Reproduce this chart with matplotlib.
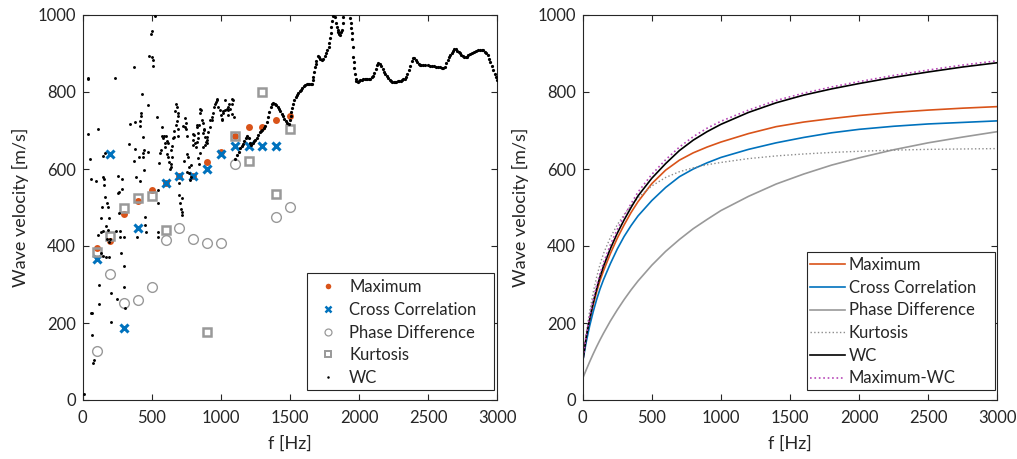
import matplotlib
matplotlib.use("Agg")
import matplotlib.pyplot as plt
from matplotlib.lines import Line2D
from matplotlib.patches import Rectangle

plt.rcParams['font.family'] = ['Lato', 'DejaVu Sans']

# ---------------- Left panel data ----------------
freq = [100, 200, 300, 400, 500, 600, 700, 800, 900, 1000, 1100, 1200, 1300, 1400, 1500]
v_max = [395, 414, 482, 518, 545, 564, 582, 582, 618, 643, 686, 710, 710, 726, 737]
v_cc = [367, 639, 188, 447, None, 564, 582, 582, 599, 640, 660, 660, 660, 660, None]
v_pd = [127, 328, 253, 259, 294, 415, 447, 417, 409, 409, 614, None, None, 476, 501]
v_kurt = [384, 425, 499, 524, 531, 441, None, None, 177, None, 686, 621, 801, 535, 703]

# WC: scattered low-frequency points
wc_f_scatter = [7, 36, 38, 41, 55, 60, 60, 65, 70, 75, 80, 96, 108, 111, 116, 120, 132, 132, 132,
                140, 145, 145, 145, 149, 154, 156, 161, 164, 169, 171, 174, 176, 183, 184, 188, 190,
                193, 198, 205, 205, 236, 241, 246, 253, 255, 260, 265, 268, 272, 277, 284, 287, 297,
                297, 301, 306, 337, 345, 369, 373, 381, 381, 388, 393, 410, 412, 415, 417, 422, 422,
                429, 434, 434, 436, 444, 446, 453, 453, 460, 473, 473, 480, 496, 501, 504, 509, 509,
                521, 536, 542, 547, 547, 545, 552, 559, 572, 576, 588, 602, 595, 595, 608, 617, 620,
                627, 639, 639, 644, 648, 637, 663, 663, 673, 680, 687, 682, 687, 687, 697, 699, 706,
                713, 716, 716, 718, 740, 745, 740, 750, 752, 752, 764, 771, 771, 781, 779, 784, 800,
                800, 812, 825, 825, 829, 832, 837, 837, 841, 842, 849, 849, 851, 856, 861, 868, 873,
                873, 876, 885, 885, 890, 897, 897, 909, 921, 921, 933, 945, 952, 962, 970, 972, 981,
                991, 1001, 1006, 1006, 1017, 1030, 1030, 1042, 1049, 1054, 1054, 1066, 1078, 1083,
                1083, 1088, 1097,
                566, 584, 611, 633, 655, 668, 676, 693, 726, 735, 757, 796, 806, 818, 881, 903, 939,
                957, 1012, 1060]
wc_v_scatter = [16, 835, 836, 690, 627, 573, 225, 225, 168, 95, 103, 570, 703, 428, 250, 299, 473, 436, 381,
                502, 580, 440, 374, 635, 573, 558, 526, 641, 371, 452, 418, 512, 441, 502, 411, 474,
                372, 418, 278, 203, 836, 438, 263, 537, 583, 487, 540, 438, 423, 383, 547, 573, 423,
                348, 294, 238, 665, 718, 864, 621, 723, 651, 578, 424, 632, 725, 570, 712, 746, 737,
                796, 684, 632, 642, 597, 649, 476, 454, 437, 765, 643, 893, 950, 959, 892, 883, 867,
                997, 736, 437, 424, 545, 511, 616, 642, 708, 687, 686, 686, 668, 658, 672, 668, 632,
                619, 606, 649, 660, 632, 614, 699, 684, 770, 760, 737, 724, 705, 686, 564, 532, 512,
                495, 524, 489, 481, 732, 719, 708, 703, 686, 593, 632, 606, 589, 580, 571, 610, 662,
                675, 667, 671, 710, 713, 693, 681, 628, 715, 613, 641, 757, 745, 753, 727, 719, 693,
                658, 705, 682, 663, 671, 667, 684, 697, 710, 727, 727, 745, 762, 775, 779, 781, 762,
                753, 740, 727, 731, 745, 753, 779, 757, 762, 753, 740, 755, 770, 783,
                744, 780, 736,
                650, 680, 640, 600, 680, 750, 715, 745, 712, 620, 640, 690, 688, 658, 700, 675, 735,
                770, 750, 770]

# WC: continuous high-frequency branch
wc_f_curve = [1105, 1120, 1130, 1140, 1150, 1160, 1170, 1180, 1190, 1200, 1210, 1220, 1230, 1240, 1250,
              1260, 1270, 1280, 1290, 1300, 1310, 1320, 1330, 1340, 1350, 1360, 1370, 1380,
              1390, 1400, 1410, 1420, 1430, 1440, 1450, 1460, 1470, 1480, 1490, 1500, 1505, 1510, 1515,
              1520, 1530, 1540, 1550, 1560, 1570, 1580, 1590, 1600, 1610, 1620, 1630, 1640,
              1650, 1660, 1665, 1670, 1675, 1680, 1685, 1690, 1700, 1710, 1720, 1730, 1740, 1750, 1760,
              1770, 1780, 1785, 1790, 1795, 1800, 1805, 1810,
              1826, 1832, 1838, 1844, 1850, 1856, 1862, 1868, 1874, 1880, 1886,
              1934, 1938, 1942, 1946, 1950, 1954, 1958, 1962, 1966, 1970, 1975, 1980, 1990,
              2000, 2010, 2020, 2030, 2040, 2050, 2060, 2070, 2080, 2090, 2100, 2110, 2120, 2130, 2140,
              2150, 2160, 2170, 2180, 2190, 2200, 2210, 2220, 2230, 2240, 2250, 2260, 2270, 2280, 2290,
              2300, 2310, 2320, 2330, 2340, 2350, 2360, 2370, 2380, 2390, 2400, 2410, 2420, 2430, 2440,
              2450, 2465, 2480, 2495, 2510, 2525, 2540, 2555, 2570, 2585, 2600, 2610, 2620, 2630, 2640,
              2650, 2660, 2670, 2680, 2690, 2700, 2710, 2720, 2730, 2740, 2750, 2760, 2770, 2780, 2790,
              2800, 2815, 2830, 2845, 2860, 2875, 2890, 2900, 2910, 2920, 2930, 2940, 2950, 2960, 2970,
              2980, 2990, 3000]
wc_v_curve = [625, 636, 645, 655, 660, 665, 672, 680, 686, 680, 668, 663, 667, 672, 676,
              681, 688, 695, 699, 702, 706, 712, 722, 735, 748, 762, 770, 772,
              770, 767, 762, 757, 751, 744, 737, 730, 724, 719, 716, 728, 738, 748, 759,
              770, 780, 788, 793, 797, 802, 806, 811, 815, 819, 822, 822, 821,
              820, 822, 830, 840, 852, 865, 873, 880, 893, 892, 885, 884, 887, 893, 900,
              908, 918, 928, 940, 952, 970, 985, 997,
              995, 980, 969, 962, 956, 950, 948, 955, 962, 978, 995,
              991, 980, 966, 953, 938, 917, 892, 878, 862, 848, 835, 828, 826,
              829, 830, 832, 833, 833, 833, 833, 834, 835, 838, 842, 850, 860, 870, 876,
              873, 868, 861, 853, 847, 841, 836, 832, 829, 826, 825, 826, 827, 828, 829,
              829, 831, 833, 835, 839, 847, 857, 868, 880, 889, 888, 883, 877, 872, 871,
              871, 870, 870, 869, 868, 867, 867, 866, 866, 865, 863, 862, 864, 875, 883,
              890, 895, 900, 906, 912, 911, 907, 903, 900, 896, 893, 891, 890, 892, 896,
              899, 902, 904, 906, 908, 909, 909, 908, 905, 901, 895, 887, 877, 867, 856,
              847, 839, 831]

# ---------------- Right panel data ----------------
f_fit = [0, 10, 25, 50, 75, 100, 125, 150, 200, 250, 300, 350, 400, 500, 600, 700, 800, 900, 1000,
         1200, 1400, 1600, 1800, 2000, 2250, 2500, 2750, 3000]
fit_max = [100, 125, 160, 205, 245, 280, 310, 335, 380, 420, 455, 487, 515, 562, 597, 623, 642, 657,
           670, 692, 710, 722, 731, 739, 747, 753, 758, 762]
fit_cc = [100, 120, 150, 192, 228, 260, 288, 312, 354, 392, 425, 453, 478, 518, 552, 580, 600, 616,
          630, 651, 668, 682, 694, 703, 711, 717, 721, 725]
fit_pd = [56, 65, 78, 99, 119, 138, 156, 173, 205, 234, 261, 286, 309, 350, 386, 417, 445, 469,
          492, 529, 561, 587, 610, 629, 650, 668, 683, 697]
fit_kurt = [100, 130, 172, 230, 278, 318, 352, 380, 422, 455, 482, 505, 525, 556, 578, 593, 603, 611,
            617, 627, 634, 639, 643, 646, 649, 651, 652, 653]
fit_wc = [100, 125, 162, 210, 252, 288, 320, 347, 393, 433, 468, 500, 530, 576, 614, 648, 675, 697,
          716, 747, 772, 792, 808, 822, 838, 852, 865, 876]
fit_maxwc = [100, 127, 166, 216, 259, 296, 328, 356, 403, 443, 478, 510, 540, 586, 624, 657, 684, 706,
             724, 753, 778, 797, 813, 827, 843, 857, 870, 881]

C_ORANGE = '#D95319'
C_BLUE = '#0072BD'
C_GREY = '#999999'
C_KURT = '#8c8c8c'
C_MAG = '#B847B8'
TXT = '#262626'
W, H = 1017, 459

fig = plt.figure(figsize=(W / 100, H / 100), dpi=100)
axL = fig.add_axes([82.7 / W, 59 / H, 414.6 / W, 385 / H])
axR = fig.add_axes([582.7 / W, 59 / H, 414.6 / W, 385 / H])


def split(xs, ys):
    px, py = [], []
    for x, y in zip(xs, ys):
        if y is not None:
            px.append(x)
            py.append(y)
    return px, py


fx, fy = split(freq, v_max)
axL.plot(fx, fy, 'o', color=C_ORANGE, ms=5, mew=0, zorder=3)
fx, fy = split(freq, v_cc)
axL.plot(fx, fy, 'x', color=C_BLUE, ms=6, mew=2.2, zorder=4)
fx, fy = split(freq, v_pd)
axL.plot(fx, fy, 'o', mfc='none', mec=C_GREY, ms=7, mew=1.0, zorder=5)
fx, fy = split(freq, v_kurt)
axL.plot(fx, fy, 's', mfc='none', mec=C_GREY, ms=5.5, mew=1.8, zorder=6)
axL.plot(wc_f_scatter, wc_v_scatter, 'o', color='k', ms=2.1, mew=0, zorder=7)
axL.plot(wc_f_curve, wc_v_curve, 'o', color='k', ms=2.3, mew=0, zorder=7)

handlesL = [
    Line2D([], [], ls='none', marker='o', color=C_ORANGE, ms=4, mew=0),
    Line2D([], [], ls='none', marker='x', color=C_BLUE, ms=4, mew=1.8),
    Line2D([], [], ls='none', marker='o', mfc='none', mec=C_GREY, ms=5, mew=0.9),
    Line2D([], [], ls='none', marker='s', mfc='none', mec=C_GREY, ms=4, mew=1.4),
    Line2D([], [], ls='none', marker='o', color='k', ms=1.8, mew=0),
]
labelsL = ['Maximum', 'Cross Correlation', 'Phase Difference', 'Kurtosis', 'WC']
legL = axL.legend(handlesL, labelsL, loc='upper left', bbox_to_anchor=((309 - 82.7) / 414.6, 0.329),
                  borderaxespad=0, fontsize=12, frameon=False, handlelength=1.6,
                  handletextpad=0.46, labelspacing=0.40, borderpad=0.35)
for t in legL.get_texts():
    t.set_color(TXT)
axL.add_patch(Rectangle(((306.7 - 82.7) / 414.6, (400 - 390) / 385), (494 - 306.7) / 414.6,
                        (390 - 273.3) / 385, transform=axL.transAxes, fill=True, fc='white',
                        ec=TXT, lw=0.8, zorder=8))
legL.set_zorder(9)

axR.plot(f_fit, fit_max, '-', color=C_ORANGE, lw=1.2, label='Maximum')
axR.plot(f_fit, fit_cc, '-', color=C_BLUE, lw=1.2, label='Cross Correlation')
axR.plot(f_fit, fit_pd, '-', color=C_GREY, lw=1.2, label='Phase Difference')
axR.plot(f_fit, fit_kurt, ':', color=C_KURT, lw=1.0, label='Kurtosis')
axR.plot(f_fit, fit_wc, '-', color='k', lw=1.2, label='WC')
axR.plot(f_fit, fit_maxwc, ':', color=C_MAG, lw=1.2, label='Maximum-WC')
legR = axR.legend(loc='upper left', bbox_to_anchor=((805 - 582.7) / 414.6, 0.384), borderaxespad=0,
                  fontsize=12, frameon=False, handlelength=2.1, handletextpad=0.24,
                  labelspacing=0.40, borderpad=0.3)
for t in legR.get_texts():
    t.set_color(TXT)
axR.add_patch(Rectangle(((806.7 - 582.7) / 414.6, (400 - 390) / 385), (995 - 806.7) / 414.6,
                        (390 - 252) / 385, transform=axR.transAxes, fill=True, fc='white',
                        ec=TXT, lw=0.8, zorder=8))
legR.set_zorder(9)

for ax in (axL, axR):
    ax.set_xlim(0, 3000)
    ax.set_ylim(0, 1000)
    ax.set_xticks([0, 500, 1000, 1500, 2000, 2500, 3000])
    ax.set_yticks([0, 200, 400, 600, 800, 1000])
    ax.tick_params(direction='in', top=True, right=True, length=4, width=0.8,
                   labelsize=12, colors=TXT)
    ax.tick_params(axis='x', pad=7)
    ax.tick_params(axis='y', pad=5)
    for s in ax.spines.values():
        s.set_color(TXT)
        s.set_linewidth(0.8)
    ax.set_xlabel('f [Hz]', fontsize=13, color=TXT, labelpad=7)
    ax.set_ylabel('Wave velocity [m/s]', fontsize=13, color=TXT, labelpad=6)

fig.savefig('out.png', dpi=100)
